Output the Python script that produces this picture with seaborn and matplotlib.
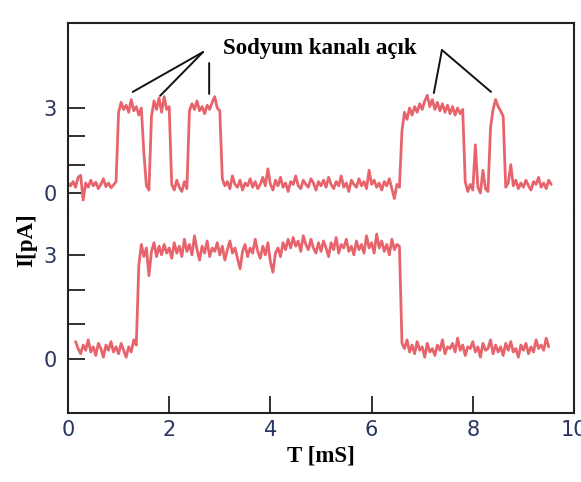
import numpy as np
import pandas as pd
import seaborn as sns
import matplotlib.pyplot as plt

dt = 0.05

# upper trace: short channel openings, starts at t = 0
top_t0 = 0.0
top_current = [
    0.35, 0.25, 0.40, 0.20, 0.55, 0.62, -0.25, 0.35, 0.20, 0.45, 0.25, 0.38, 0.15, 0.30, 0.50, 0.22, 0.35, 0.18, 0.28, 0.40,
    2.85, 3.20, 2.95, 3.10, 2.85, 3.30, 2.90, 3.05, 2.75, 3.00, 1.40, 0.25, 0.10, 2.70, 3.25, 2.95, 3.35, 2.85, 3.40, 2.95,
    3.05, 0.30, 0.10, 0.45, 0.20, 0.05, 0.40, 0.15, 2.90, 3.15, 2.95, 3.25, 2.90, 3.05, 2.80, 3.10, 2.95, 3.20, 3.40, 3.00,
    2.90, 0.50, 0.25, 0.40, 0.15, 0.60, 0.30, 0.20, 0.45, 0.10, 0.35, 0.25, 0.50, 0.20, 0.40, 0.15, 0.30, 0.55, 0.25, 0.85,
    0.30, 0.10, 0.45, 0.25, 0.55, 0.20, 0.35, 0.05, 0.40, 0.30, 0.60, 0.25, 0.15, 0.45, 0.30, 0.20, 0.50, 0.35, 0.10, 0.40,
    0.25, 0.45, 0.20, 0.55, 0.30, 0.15, 0.40, 0.25, 0.60, 0.20, 0.35, 0.05, 0.45, 0.30, 0.20, 0.50, 0.25, 0.40, 0.15, 0.80,
    0.30, 0.45, 0.20, 0.35, 0.10, 0.40, 0.25, 0.50, 0.15, -0.20, 0.30, 0.20, 2.20, 2.85, 2.60, 3.00, 2.75, 3.05, 2.85, 3.15,
    2.95, 3.25, 3.45, 3.05, 3.30, 2.95, 3.20, 2.90, 3.15, 2.85, 3.10, 2.80, 3.05, 2.75, 3.00, 2.80, 2.95, 0.40, 0.05, 0.30,
    0.10, 1.70, 0.20, 0.00, 0.80, 0.15, 0.05, 2.30, 2.95, 3.30, 3.05, 2.90, 2.70, 0.20, 0.35, 1.00, 0.25, 0.45, 0.15, 0.35,
    0.20, 0.45, 0.25, 0.10, 0.40, 0.30, 0.55, 0.20, 0.35, 0.15, 0.45, 0.30,
]

# lower trace: one long opening, starts at t = 0.15
bot_t0 = 0.15
bot_current = [
    0.50, 0.30, 0.15, 0.40, 0.25, 0.55, 0.20, 0.35, 0.10, 0.45, 0.30, 0.05, 0.40, 0.25, 0.50, 0.20, 0.35,
    0.15, 0.45, 0.25, 0.05, 0.35, 0.20, 0.55, 0.40, 2.70, 3.30, 2.95, 3.20, 2.40, 3.10, 3.35, 2.95, 3.25, 3.00, 3.30, 3.05,
    3.20, 2.90, 3.35, 3.05, 3.25, 2.95, 3.45, 3.10, 3.30, 3.00, 3.55, 3.15, 2.85, 3.25, 3.05, 3.40, 2.95, 3.20, 3.10, 3.35,
    3.00, 3.25, 2.85, 3.15, 3.40, 3.05, 3.20, 2.90, 2.60, 3.10, 3.30, 2.95, 3.20, 3.05, 3.45, 3.10, 2.90, 3.25, 3.00, 3.35,
    2.80, 2.50, 3.05, 3.20, 2.95, 3.35, 3.15, 3.45, 3.20, 3.50, 3.25, 3.40, 3.10, 3.55, 3.30, 3.15, 3.45, 3.20, 3.05, 3.35,
    3.10, 3.40, 3.20, 2.95, 3.35, 3.15, 3.50, 3.05, 3.30, 3.20, 3.45, 3.10, 3.25, 3.00, 3.40, 3.15, 3.30, 3.05, 3.55, 3.20,
    3.35, 3.05, 3.60, 3.20, 3.40, 3.10, 3.30, 3.00, 3.45, 3.15, 3.30, 3.25, 0.45, 0.30, 0.55, 0.20, 0.40, 0.15, 0.50, 0.25,
    0.35, 0.05, 0.45, 0.20, 0.30, 0.10, 0.40, 0.25, 0.55, 0.15, 0.35, 0.30, 0.45, 0.20, 0.60, 0.25, 0.40, 0.10, 0.35, 0.30,
    0.50, 0.20, 0.35, 0.05, 0.45, 0.25, 0.30, 0.55, 0.15, 0.40, 0.20, 0.35, 0.10, 0.45, 0.25, 0.50, 0.20, 0.30, 0.05, 0.40,
    0.25, 0.45, 0.15, 0.35, 0.20, 0.55, 0.30, 0.40, 0.25, 0.60, 0.35,
]

x_ticks = [0, 2, 4, 6, 8, 10]
y_ticks = [0, 1, 2, 3]
y_tick_labels = ['0', '', '', '3']

annot_text = 'Sodyum kanalı açık'

top_df = pd.DataFrame({'t': top_t0 + dt * np.arange(len(top_current)), 'I': top_current})
bot_df = pd.DataFrame({'t': bot_t0 + dt * np.arange(len(bot_current)), 'I': bot_current})

# ---- styling ----
sns.set_theme(style='white')
plt.rcParams['font.family'] = ['DejaVu Sans']

trace_color = '#e7646c'
tick_color = '#2a3460'
edge_color = '#222222'
serif = ['Liberation Serif', 'DejaVu Serif']

fig = plt.figure(figsize=(5.81, 4.82), dpi=100)
ax_top = fig.add_axes([0.117, 0.554, 0.871, 0.398])
ax_bot = fig.add_axes([0.117, 0.143, 0.871, 0.411], sharex=ax_top)

sns.lineplot(data=top_df, x='t', y='I', ax=ax_top, color=trace_color, lw=2.0)
sns.lineplot(data=bot_df, x='t', y='I', ax=ax_bot, color=trace_color, lw=2.0)

ax_top.set_ylim(-0.78, 6.0)
ax_bot.set_ylim(-1.56, 4.15)
ax_bot.set_xlim(0, 10)

for ax in (ax_top, ax_bot):
    ax.set_xlabel('')
    ax.set_ylabel('')
    ax.set_yticks(y_ticks)
    ax.set_yticklabels(y_tick_labels)
    for s in ax.spines.values():
        s.set_color(edge_color)
        s.set_linewidth(1.5)
    ax.tick_params(axis='y', left=True, direction='in', length=12.5, width=1.3,
                   color=edge_color, labelcolor=tick_color, labelsize=15, pad=8)

ax_top.spines['bottom'].set_visible(False)
ax_bot.spines['top'].set_visible(False)
ax_top.tick_params(axis='x', bottom=False, labelbottom=False)

ax_bot.set_xticks(x_ticks)
ax_bot.set_xticklabels([str(v) for v in x_ticks])
ax_bot.tick_params(axis='x', bottom=True, direction='in', length=12.5, width=1.3,
                   color=edge_color, labelcolor=tick_color, labelsize=15, pad=5)

# label of the open events with lines to the openings
ax_top.text(4.98, 5.12, annot_text, ha='center', va='center',
            fontsize=16.5, fontweight='bold', family=serif, color='black')
line_style = dict(arrowstyle='-', color='#111111', lw=1.4, shrinkA=0, shrinkB=0)
for xy in [(1.28, 3.57), (1.82, 3.43)]:
    ax_top.annotate('', xy=xy, xytext=(2.67, 4.98), arrowprops=line_style)
ax_top.annotate('', xy=(2.79, 3.50), xytext=(2.79, 4.59), arrowprops=line_style)
for xy in [(7.23, 3.53), (8.36, 3.57)]:
    ax_top.annotate('', xy=xy, xytext=(7.39, 5.05), arrowprops=line_style)

ax_bot.set_xlabel('T [mS]', fontsize=16.5, fontweight='bold', family=serif,
                  color='black', labelpad=4)
fig.text(27 / 581, 1 - 240 / 482, 'I[pA]', rotation=90, ha='center', va='center',
         fontsize=16.5, fontweight='bold', family=serif, color='black')

fig.savefig('out.png', dpi=100)
